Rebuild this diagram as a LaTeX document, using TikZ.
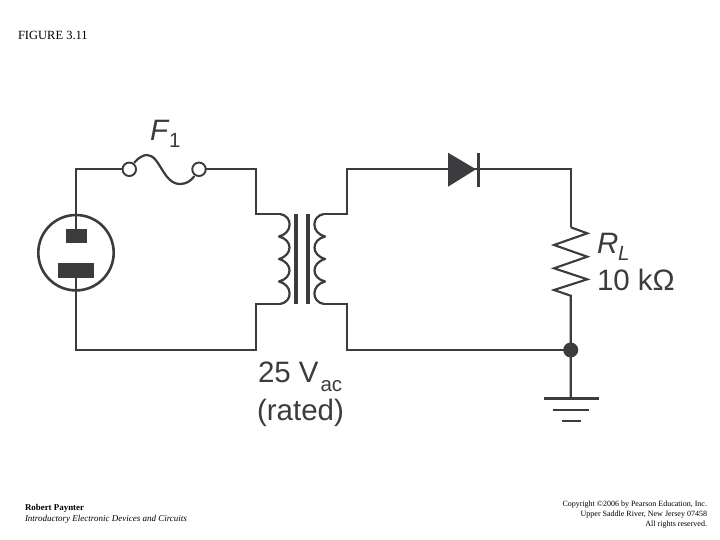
\documentclass[tikz,border=0pt]{standalone}
\usepackage{fontspec}
\setmainfont{Liberation Serif}
\newfontfamily\arial{Liberation Sans}
\definecolor{ink}{HTML}{3C3C3E}
\tikzset{
  wire/.style={draw=ink,line width=1.9pt,line join=miter},
  coil/.style={draw=ink,line width=2.2pt,line cap=round,line join=round},
  lab/.style={anchor=base west,inner sep=0pt,outer sep=0pt,text=ink,font=\arial\fontsize{29.5}{33}\selectfont},
  subl/.style={anchor=base west,inner sep=0pt,outer sep=0pt,text=ink,font=\arial\fontsize{20.5}{22}\selectfont},
  foot/.style={inner sep=0pt,outer sep=0pt,text=black},
  term/.style={circle,draw=ink,line width=1.9pt,fill=white,minimum size=13.5pt,inner sep=0pt,outer sep=0pt},
  pad/.style={rectangle,fill=ink,draw=none,inner sep=0pt,outer sep=0pt}
}
\begin{document}
\begin{tikzpicture}[x=1pt,y=-1pt]
\useasboundingbox[fill=white] (0,0) rectangle (720,540);
% named junctions
\coordinate (tl) at (75.7,169.3);
\coordinate (p1) at (256,169.3);
\coordinate (p2) at (256,214);
\coordinate (p3) at (280,214);
\coordinate (p4) at (280,304);
\coordinate (p5) at (256,304);
\coordinate (p6) at (256,350);
\coordinate (bl) at (75.7,350);
\coordinate (s1) at (346.7,214);
\coordinate (s2) at (324,214);
\coordinate (s3) at (346.7,169.3);
\coordinate (s4) at (346.7,304);
\coordinate (s5) at (324,304);
\coordinate (s6) at (346.7,350);
\coordinate (tr) at (570.7,169.3);
\coordinate (r1) at (570.7,227.3);
\coordinate (r2) at (570.7,295.7);
\coordinate (g) at (570.7,398.3);
% source
\node[circle,draw=ink,line width=2.6pt,minimum size=75.4pt,inner sep=0pt,outer sep=0pt] (src) at (76,252.7) {};
\node[pad,minimum width=20.7pt,minimum height=14.3pt] (pa) at (76.3,236.2) {};
\node[pad,minimum width=36.3pt,minimum height=14.7pt] (pb) at (75.9,270.7) {};
% fuse
\node[term] (fa) at (129.3,169.3) {};
\node[term] (fb) at (199,169.3) {};
\draw[wire] (pa.north -| tl) -- (tl) -- (fa);
\draw[wire] (fb) -- (p1) -- (p2) -- (p3);
\draw[wire] (pb.south -| bl) -- (bl) -- (p6) -- (p5) -- (p4);
\draw[coil] (134.3,162.5) .. controls (139,157) and (144,155) .. (147,155)
  .. controls (160,155) and (163,184) .. (180,184)
  .. controls (186,184) and (191,181) .. (194,176.5);
% transformer
\draw[coil] (p3) .. controls (293,216) and (293,233) .. (279,236.5)
  .. controls (293,240) and (293,255) .. (279,259)
  .. controls (293,263) and (293,278) .. (279,281.5)
  .. controls (293,285) and (293,302) .. (p4);
\draw[coil] (s2) .. controls (311,216) and (311,233) .. (325,236.5)
  .. controls (311,240) and (311,255) .. (325,259)
  .. controls (311,263) and (311,278) .. (325,281.5)
  .. controls (311,285) and (311,302) .. (s5);
\node[pad,minimum width=3.6pt,minimum height=90pt] (core1) at (295.7,259) {};
\node[pad,minimum width=3.6pt,minimum height=90pt] (core2) at (308,259) {};
\draw[wire] (s2) -- (s1) -- (s3) -- (tr) -- (r1);
\draw[wire] (s5) -- (s4) -- (s6) -- (571,350);
% diode
\fill[ink] (448,152.7) -- (476,169.3) -- (448,186.7) -- cycle;
\draw[ink,line width=3pt] (478.3,153) -- (478.3,186.7);
% resistor
\draw[wire,line join=miter,line width=2.1pt] (r1) -- (587.3,233.3) -- (554,245) -- (587.3,256.7) -- (554,268.3) -- (587.3,279.3) -- (554,290) -- (r2) -- (g);
% node and ground
\node[circle,fill=ink,minimum size=15pt,inner sep=0pt,outer sep=0pt] (dot) at (570.7,350) {};
\draw[ink,line width=2.4pt] (544,398.3) -- (599,398.3);
\draw[ink,line width=2.4pt] (552.7,410) -- (589.3,410);
\draw[ink,line width=2.4pt] (562.3,421) -- (580.7,421);
% labels
\node[lab,font=\arial\itshape\fontsize{29.5}{33}\selectfont] (f) at (150,141) {F};
\node[subl] (f1) at (169,148) {1};
\node[lab] (v) at (258,382) {25 V};
\node[subl] (vs) at (320.5,391) {ac};
\node[lab] (rt) at (257,420) {(rated)};
\node[lab,font=\arial\itshape\fontsize{29.5}{33}\selectfont] (r) at (597,253) {R};
\node[subl,font=\arial\itshape\fontsize{20.5}{22}\selectfont] (rs) at (618,260) {L};
\node[lab] (rv) at (597,290) {10 kΩ};
% captions
\node[foot,anchor=base west,font=\fontsize{12.5}{14}\selectfont] (fig) at (18,40) {FIGURE 3.11};
\node[foot,anchor=base west,font=\bfseries\fontsize{8.9}{10}\selectfont] (au) at (25,510.5) {Robert Paynter};
\node[foot,anchor=base west,font=\itshape\fontsize{9}{10}\selectfont] (bk) at (25,521.5) {Introductory Electronic Devices and Circuits};
\node[foot,anchor=base east,font=\fontsize{8}{10}\selectfont] (c1) at (707,506) {Copyright ©2006 by Pearson Education, Inc.};
\node[foot,anchor=base east,font=\fontsize{8}{10}\selectfont] (c2) at (707,516) {Upper Saddle River, New Jersey 07458};
\node[foot,anchor=base east,font=\fontsize{8}{10}\selectfont] (c3) at (707,526) {All rights reserved.};
\end{tikzpicture}
\end{document}
